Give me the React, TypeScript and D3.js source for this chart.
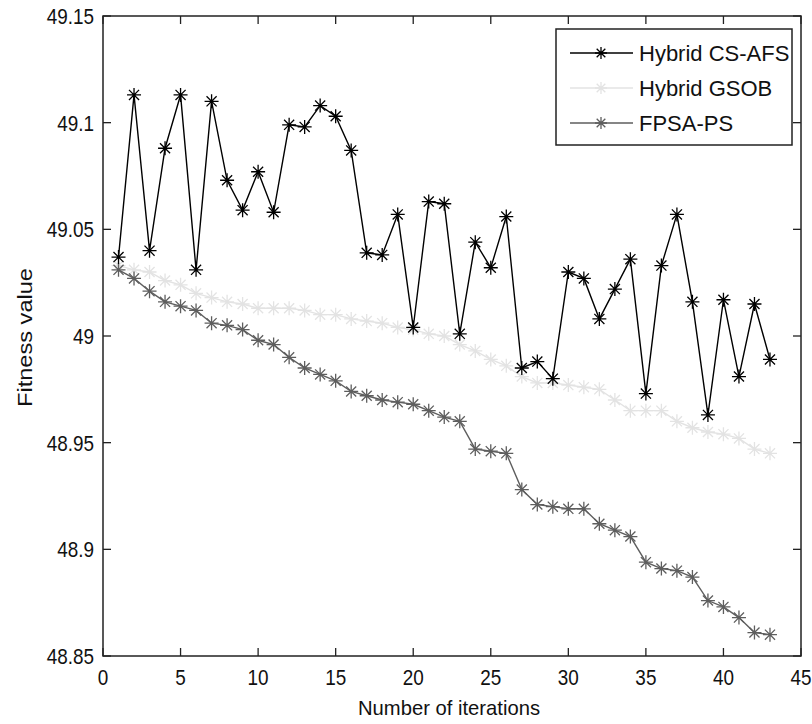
import { useEffect, useRef } from "react";
import * as d3 from "d3";

const iterations = d3.range(1, 44);

const hybridCsAfs = [
  49.037, 49.113, 49.040, 49.088, 49.113, 49.031, 49.110, 49.073, 49.059, 49.077,
  49.058, 49.099, 49.098, 49.108, 49.103, 49.087, 49.039, 49.038, 49.057, 49.004,
  49.063, 49.062, 49.001, 49.044, 49.032, 49.056, 48.985, 48.988, 48.980, 49.030,
  49.027, 49.008, 49.022, 49.036, 48.973, 49.033, 49.057, 49.016, 48.963, 49.017,
  48.981, 49.015, 48.989,
];

const hybridGsob = [
  49.033, 49.031, 49.030, 49.026, 49.024, 49.020, 49.018, 49.016, 49.015, 49.013,
  49.013, 49.013, 49.012, 49.010, 49.010, 49.008, 49.007, 49.006, 49.004, 49.003,
  49.001, 49.000, 48.996, 48.993, 48.989, 48.986, 48.981, 48.978, 48.978, 48.977,
  48.976, 48.975, 48.970, 48.965, 48.965, 48.965, 48.960, 48.957, 48.955, 48.954,
  48.952, 48.947, 48.945,
];

const fpsaPs = [
  49.031, 49.027, 49.021, 49.016, 49.014, 49.012, 49.006, 49.005, 49.003, 48.998,
  48.996, 48.990, 48.985, 48.982, 48.979, 48.974, 48.972, 48.970, 48.969, 48.968,
  48.965, 48.962, 48.960, 48.947, 48.946, 48.945, 48.928, 48.921, 48.920, 48.919,
  48.919, 48.912, 48.909, 48.906, 48.894, 48.891, 48.890, 48.887, 48.876, 48.873,
  48.868, 48.861, 48.860,
];

const seriesNames = ["Hybrid CS-AFS", "Hybrid GSOB", "FPSA-PS"];
const seriesColors = ["#000000", "#e3e3e3", "#5e5e5e"];
const seriesValues = [hybridCsAfs, hybridGsob, fpsaPs];

const xTicks = [0, 5, 10, 15, 20, 25, 30, 35, 40, 45];
const yTicks = [48.85, 48.9, 48.95, 49, 49.05, 49.1, 49.15];

const WIDTH = 812;
const HEIGHT = 724;
const MARGIN = { top: 16, right: 11, bottom: 68, left: 103 };
const FONT = "'Liberation Sans', Arial, sans-serif";

const drawStar = (g, cx, cy, r, color) => {
  const d = r * 0.72;
  const path = `M${cx - r},${cy}L${cx + r},${cy}M${cx},${cy - r}L${cx},${cy + r}` +
    `M${cx - d},${cy - d}L${cx + d},${cy + d}M${cx - d},${cy + d}L${cx + d},${cy - d}`;
  g.append("path").attr("d", path).attr("stroke", color).attr("stroke-width", 1.3).attr("fill", "none");
};

// squeezed text, like the condensed font of the original figure
const narrowText = (g, tx, ty, anchor, str) =>
  g.append("text")
    .attr("transform", `translate(${tx},${ty}) scale(0.86,1)`)
    .attr("text-anchor", anchor)
    .style("font-family", FONT).style("font-size", "22px").attr("fill", "#111")
    .text(str);

const App = () => {
  const svgRef = useRef(null);

  useEffect(() => {
    const svg = d3.select(svgRef.current);
    svg.selectAll("*").remove();

    const x = d3.scaleLinear().domain([0, 45]).range([MARGIN.left, WIDTH - MARGIN.right]);
    const y = d3.scaleLinear().domain([48.85, 49.15]).range([HEIGHT - MARGIN.bottom, MARGIN.top]);

    svg.append("rect").attr("width", WIDTH).attr("height", HEIGHT).attr("fill", "#fff");

    // plot box
    svg.append("rect")
      .attr("x", x(0)).attr("y", y(49.15))
      .attr("width", x(45) - x(0)).attr("height", y(48.85) - y(49.15))
      .attr("fill", "none").attr("stroke", "#222").attr("stroke-width", 1.5);

    const tickLen = 8;
    const ticks = svg.append("g").attr("stroke", "#222").attr("stroke-width", 1.3);
    xTicks.forEach((t) => {
      ticks.append("line").attr("x1", x(t)).attr("x2", x(t)).attr("y1", y(48.85)).attr("y2", y(48.85) - tickLen);
      ticks.append("line").attr("x1", x(t)).attr("x2", x(t)).attr("y1", y(49.15)).attr("y2", y(49.15) + tickLen);
    });
    yTicks.forEach((t) => {
      ticks.append("line").attr("x1", x(0)).attr("x2", x(0) + tickLen).attr("y1", y(t)).attr("y2", y(t));
      ticks.append("line").attr("x1", x(45)).attr("x2", x(45) - tickLen).attr("y1", y(t)).attr("y2", y(t));
    });

    const labels = svg.append("g");
    xTicks.forEach((t) => narrowText(labels, x(t), y(48.85) + 29, "middle", String(t)));
    yTicks.forEach((t) => narrowText(labels, x(0) - 9, y(t) + 8, "end", String(+t.toFixed(2))));

    svg.append("text")
      .attr("x", 358).attr("y", HEIGHT - 9)
      .attr("textLength", 182).attr("lengthAdjust", "spacingAndGlyphs")
      .style("font-family", FONT).style("font-size", "21px").attr("fill", "#111")
      .text("Number of iterations");

    svg.append("text")
      .attr("transform", `translate(32,407) rotate(-90)`)
      .attr("textLength", 139).attr("lengthAdjust", "spacingAndGlyphs")
      .style("font-family", FONT).style("font-size", "21px").attr("fill", "#111")
      .text("Fitness value");

    const line = d3.line().x((d) => x(d[0])).y((d) => y(d[1]));

    // light series first, darker ones on top
    [1, 2, 0].forEach((i) => {
      const pts = iterations.map((it, j) => [it, seriesValues[i][j]]);
      const g = svg.append("g");
      g.append("path").datum(pts).attr("d", line)
        .attr("fill", "none").attr("stroke", seriesColors[i]).attr("stroke-width", 1.4);
      pts.forEach((p) => drawStar(g, x(p[0]), y(p[1]), 7, seriesColors[i]));
    });

    // legend
    const lg = svg.append("g");
    lg.append("rect").attr("x", 556).attr("y", 29).attr("width", 236).attr("height", 116)
      .attr("fill", "#fff").attr("stroke", "#222").attr("stroke-width", 1.5);
    seriesNames.forEach((name, i) => {
      const ly = 53 + i * 35;
      lg.append("line").attr("x1", 570).attr("x2", 633).attr("y1", ly).attr("y2", ly)
        .attr("stroke", seriesColors[i]).attr("stroke-width", 1.4);
      drawStar(lg, 601, ly, 6, seriesColors[i]);
      lg.append("text").attr("x", 639).attr("y", ly + 8)
        .style("font-family", FONT).style("font-size", "22px")
        .attr("fill", "#111").text(name);
    });
  }, []);

  return (
    <div style={{ position: "absolute", left: 0, top: 0 }}>
      <svg ref={svgRef} width={WIDTH} height={HEIGHT} style={{ display: "block" }} />
    </div>
  );
};

export default App;
